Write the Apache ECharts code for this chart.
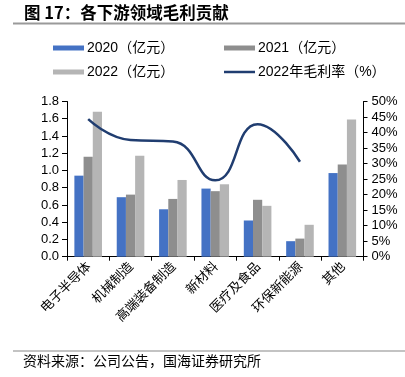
<!DOCTYPE html>
<html>
<head>
<meta charset="utf-8">
<script src="https://cdn.jsdelivr.net/npm/echarts@6/dist/echarts.min.js"></script>
<style>
html,body{margin:0;padding:0;background:#fff;}
#main{width:405px;height:377px;}
</style>
</head>
<body>
<div id="main"></div>
<script>
var categories = ['电子半导体','机械制造','高端装备制造','新材料','医疗及食品','环保新能源','其他'];
var v2020 = [0.94, 0.69, 0.55, 0.79, 0.42, 0.18, 0.97];
var v2021 = [1.16, 0.72, 0.67, 0.76, 0.66, 0.21, 1.07];
var v2022 = [1.68, 1.17, 0.89, 0.84, 0.59, 0.37, 1.59];
var margin2022 = [44.3, 37.6, 37.1, 24.6, 42.7, 30.6, null];
var leftTicks = {min: 0, max: 1.8, interval: 0.2};
var rightTicks = {min: 0, max: 50, interval: 5};
var names = ['2020（亿元）','2021（亿元）','2022（亿元）','2022年毛利率（%）'];
var title = '图 17：各下游领域毛利贡献';
var source = '资料来源：公司公告，国海证券研究所';

var numFont = 'Liberation Sans';
var cjkFont = 'Noto Sans CJK SC';

var chart = echarts.init(document.getElementById('main'), null, {renderer: 'canvas'});
function legendAt(name, left, top, h, color) {
  return {
    data: [{name: name, icon: 'rect', itemStyle: {color: color}}], left: left, top: top, padding: 0,
    itemWidth: 31, itemHeight: h, itemGap: 0,
    textStyle: {fontSize: 14, color: '#000', fontFamily: numFont + ',' + cjkFont, padding: [0,0,0,-2]}
  };
}
var option = {
  animation: false,
  backgroundColor: '#fff',
  legend: [
    legendAt(names[0], 53, 41, 5, '#4472C4'),
    legendAt(names[1], 224, 41, 5, '#8E8E8E'),
    legendAt(names[2], 53, 65, 5, '#B5B5B5'),
    legendAt(names[3], 224, 65, 2.5, '#203D70')
  ],
  grid: {left: 67, right: 41.5, top: 101.5, bottom: 120.3, containLabel: false},
  xAxis: {
    type: 'category',
    data: categories,
    axisLine: {lineStyle: {color: '#000', width: 1}},
    axisTick: {show: true, length: 4, lineStyle: {color: '#000'}},
    axisLabel: {interval: 0, rotate: 45, fontSize: 13, color: '#000', fontFamily: cjkFont, margin: 7}
  },
  yAxis: [
    {
      type: 'value', min: leftTicks.min, max: leftTicks.max, interval: leftTicks.interval,
      splitLine: {show: false},
      axisLine: {show: true, lineStyle: {color: '#000'}},
      axisTick: {show: true, length: 5, lineStyle: {color: '#000'}},
      axisLabel: {fontSize: 13, color: '#000', fontFamily: numFont, margin: 8,
        formatter: function (v) { return v.toFixed(1); }}
    },
    {
      type: 'value', min: rightTicks.min, max: rightTicks.max, interval: rightTicks.interval,
      splitLine: {show: false},
      axisLine: {show: true, lineStyle: {color: '#000'}},
      axisTick: {show: true, length: 4, lineStyle: {color: '#000'}},
      axisLabel: {fontSize: 13, color: '#000', fontFamily: numFont, margin: 8,
        formatter: '{value}%'}
    }
  ],
  series: [
    {name: names[0], type: 'bar', data: v2020, barWidth: 9.2, barGap: '0%', itemStyle: {color: '#4472C4'}},
    {name: names[1], type: 'bar', data: v2021, barWidth: 9.2, barGap: '0%', itemStyle: {color: '#8E8E8E'}},
    {name: names[2], type: 'bar', data: v2022, barWidth: 9.2, barGap: '0%', itemStyle: {color: '#B5B5B5'}},
    {name: names[3], type: 'line', yAxisIndex: 1, data: margin2022, smooth: 0.5, symbol: 'none',
      connectNulls: false, lineStyle: {color: '#203D70', width: 2.5}, itemStyle: {color: '#203D70'}}
  ],
  graphic: [
    {type: 'text', left: 24, top: 4, style: {text: title, font: 'bold 16.5px "Noto Sans CJK SC"', fill: '#000'}},
    {type: 'rect', shape: {x: 13, y: 22.5, width: 392, height: 2}, style: {fill: '#9A9A9A'}},
    {type: 'rect', shape: {x: 13, y: 350.5, width: 392, height: 1}, style: {fill: '#888'}},
    {type: 'text', left: 23, top: 354, style: {text: source, font: '14px "Noto Sans CJK SC"', fill: '#000'}}
  ]
};
chart.setOption(option);
</script>
</body>
</html>
